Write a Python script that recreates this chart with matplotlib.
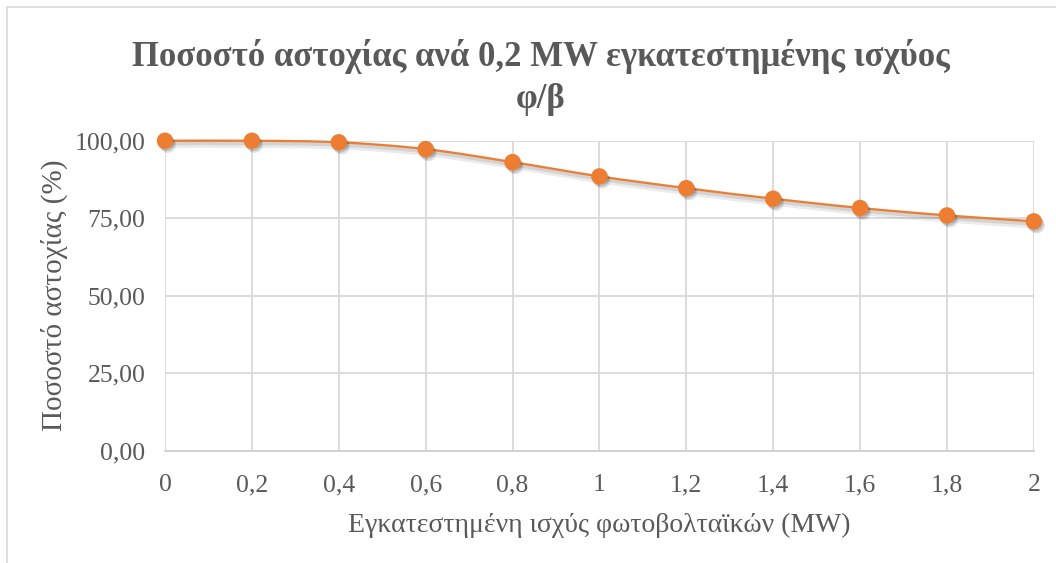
import numpy as np
import matplotlib
matplotlib.use('Agg')
import matplotlib.pyplot as plt
from matplotlib.path import Path
from matplotlib.patches import PathPatch, Rectangle
import matplotlib.patheffects as pe

# Ισχύς φ/β (MW) και ποσοστό αστοχίας (%)
power_mw = [0, 0.2, 0.4, 0.6, 0.8, 1.0, 1.2, 1.4, 1.6, 1.8, 2.0]
failure_pct = [100.0, 100.0, 99.5, 97.3, 93.1, 88.5, 84.7, 81.3, 78.3, 75.9, 74.0]
x_ticks = [0, 0.2, 0.4, 0.6, 0.8, 1.0, 1.2, 1.4, 1.6, 1.8, 2.0]
x_ticklabels = ['0', '0,2', '0,4', '0,6', '0,8', '1', '1,2', '1,4', '1,6', '1,8', '2']
y_ticks = [0, 25, 50, 75, 100]

txt = '#595959'
grid = '#d9d9d9'
orange = '#ED7D31'

plt.rcParams['font.family'] = ['Liberation Serif', 'DejaVu Serif']


def smooth_path(xs, ys):
    # καμπύλη τύπου Catmull-Rom με κυβικά Bezier τμήματα
    pts = np.column_stack([xs, ys]).astype(float)
    n = len(pts)
    verts = [pts[0]]
    codes = [Path.MOVETO]
    for i in range(n - 1):
        p0 = pts[max(i - 1, 0)]
        p1 = pts[i]
        p2 = pts[i + 1]
        p3 = pts[min(i + 2, n - 1)]
        c1 = p1 + (p2 - p0) / 6.0
        c2 = p2 - (p3 - p1) / 6.0
        verts += [c1, c2, p2]
        codes += [Path.CURVE4] * 3
    return Path(verts, codes)


fig = plt.figure(figsize=(10.56, 5.63), dpi=100)
fig.patches.append(Rectangle((7 / 1056, -0.1), 1.2, 1.1 - 7.5 / 563,
                             transform=fig.transFigure, fill=False,
                             edgecolor=grid, linewidth=1.2))

ax = fig.add_axes([0.15625, 0.1995, 0.979 - 0.15625, 0.750 - 0.1995])
ax.set_xlim(0, 2)
ax.set_ylim(0, 100)

ax.set_xticks(x_ticks)
ax.set_xticklabels(x_ticklabels)
ax.set_yticks(y_ticks)
ax.set_yticklabels([f'{v:.2f}'.replace('.', ',') for v in y_ticks])
ax.tick_params(length=0, labelsize=18.5, colors=txt)
ax.tick_params(axis='x', pad=17)
ax.tick_params(axis='y', pad=14)

ax.grid(True, color=grid, linewidth=1.3)
ax.set_axisbelow(True)
for s in ['top', 'right', 'left']:
    ax.spines[s].set_visible(False)
ax.spines['bottom'].set_color('#d0d0d0')
ax.spines['bottom'].set_linewidth(1.3)

shadow = [pe.SimpleLineShadow(offset=(1.5, -2.2), shadow_color='#000000', alpha=0.08, linewidth=6),
          pe.SimpleLineShadow(offset=(1.0, -1.5), shadow_color='#000000', alpha=0.10, linewidth=3.5),
          pe.Normal()]

curve = PathPatch(smooth_path(power_mw, failure_pct), facecolor='none',
                  edgecolor=orange, linewidth=1.6, zorder=3, clip_on=False)
curve.set_path_effects(shadow)
ax.add_patch(curve)

mshadow = [pe.SimplePatchShadow(offset=(2.0, -2.8), shadow_rgbFace='#000000', alpha=0.12),
           pe.SimplePatchShadow(offset=(1.0, -1.5), shadow_rgbFace='#000000', alpha=0.15),
           pe.Normal()]
pts = ax.scatter(power_mw, failure_pct, s=140, color=orange, zorder=4, clip_on=False,
                 linewidths=0)
pts.set_path_effects(mshadow)

ax.set_xlabel('Εγκατεστημένη ισχύς φωτοβολταϊκών (MW)', fontsize=20, color=txt, labelpad=12)
ax.set_ylabel('Ποσοστό αστοχίας (%)', fontsize=21, color=txt, labelpad=5)

fig.text(0.512, 1 - 66 / 563, 'Ποσοστό αστοχίας ανά 0,2 MW εγκατεστημένης ισχύος',
         ha='center', va='baseline', fontsize=25, fontweight='bold', color=txt)
fig.text(0.512, 1 - 108 / 563, 'φ/β', ha='center', va='baseline',
         fontsize=25, fontweight='bold', color=txt)

fig.savefig('out.png', dpi=100, facecolor='white')
